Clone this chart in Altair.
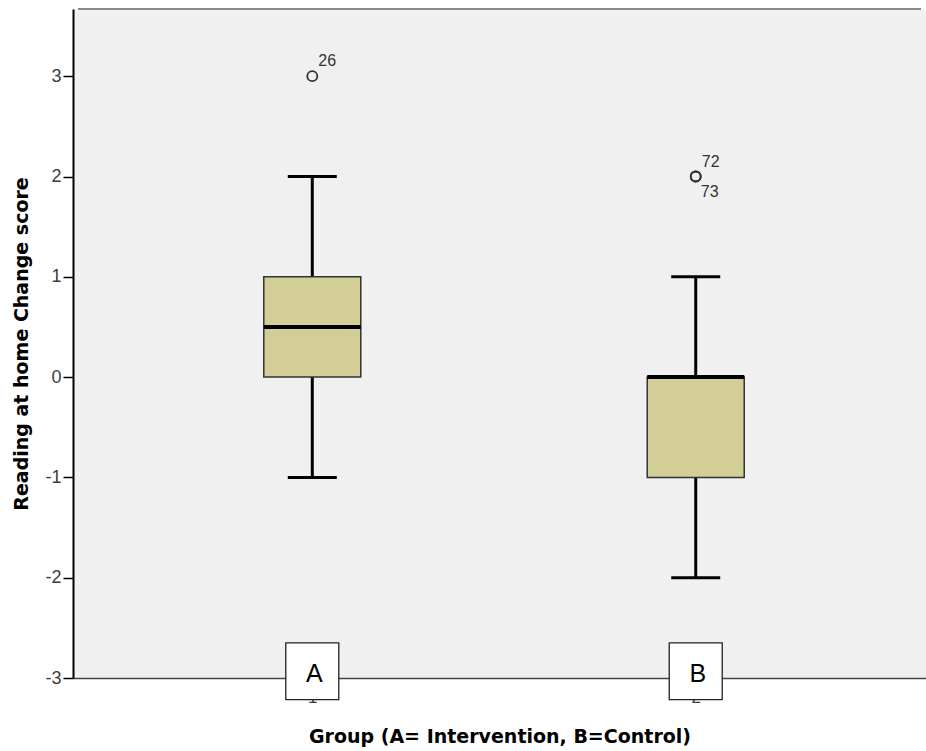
import altair as alt
import pandas as pd

# Box-plot summary per group (1 = A, 2 = B)
groups = [1, 2]
group_names = ["A", "B"]
whisker_low = [-1, -2]
q1 = [0, -1]
median = [0.5, 0]
q3 = [1, 0]
whisker_high = [2, 1]

# Outlying cases
outlier_group = [1, 2, 2]
outlier_value = [3, 2, 2]
outlier_case = ["26", "72", "73"]

# Axis ranges and tick values
X_DOMAIN = [0.389, 2.5875]
Y_DOMAIN = [-3, 3.67]
y_ticks = [-3, -2, -1, 0, 1, 2, 3]
x_ticks = [1, 2]

# Vertical extent (in score units) of the white group-letter boxes on the x axis
LETTER_BOX_TOP = -2.65
LETTER_BOX_BOTTOM = -3.215
LETTER_Y = -2.96

TITLE_FONT = "DejaVu Sans"
LABEL_FONT = "Liberation Sans"

box_df = pd.DataFrame({
    "group": groups, "name": group_names, "lo": whisker_low,
    "q1": q1, "med": median, "q3": q3, "hi": whisker_high,
})

# coincident outliers: first one labelled above the point, the next below
seen = {}
side = []
for g, v in zip(outlier_group, outlier_value):
    k = (g, v)
    side.append("above" if k not in seen else "below")
    seen[k] = True
out_df = pd.DataFrame({"group": outlier_group, "value": outlier_value,
                       "case": outlier_case, "side": side})

x_scale = alt.Scale(domain=X_DOMAIN, nice=False, zero=False)
y_scale = alt.Scale(domain=Y_DOMAIN, nice=False, zero=False)

# plain hyphen-minus in tick labels
plain_label = "'' + datum.value"

x_axis = alt.Axis(
    values=x_ticks, labelExpr=plain_label, title="Group (A= Intervention, B=Control)",
    grid=False, domainColor="#444444", domainWidth=1.5, tickColor="#333333",
    tickWidth=1.2, tickSize=8, labelFont=LABEL_FONT, labelFontSize=17,
    labelColor="#3c3c3c", labelPadding=3, labelFlush=False,
    titleFont=TITLE_FONT, titleFontSize=19, titleFontWeight="bold",
    titleColor="#000000", titlePadding=22,
)
y_axis = alt.Axis(
    values=y_ticks, labelExpr=plain_label, title="Reading at home Change score",
    grid=False, domainColor="#000000", domainWidth=2, tickColor="#000000",
    tickWidth=1.5, tickSize=10, labelFont=LABEL_FONT, labelFontSize=18,
    labelColor="#3c3c3c", labelPadding=2,
    titleFont=TITLE_FONT, titleFontSize=19, titleFontWeight="bold",
    titleColor="#000000", titlePadding=13,
)


def X(field):
    return alt.X(field, type="quantitative", scale=x_scale, axis=x_axis)


def Y(field):
    return alt.Y(field, type="quantitative", scale=y_scale, axis=y_axis)


boxes = alt.Chart(box_df)

# top frame line of the plot area
frame = alt.Chart(pd.DataFrame({"x": [X_DOMAIN[0]], "x2": [X_DOMAIN[1]], "y": [Y_DOMAIN[1]]})).mark_rule(
    color="#8a8a8a", strokeWidth=2
).encode(x=X("x"), x2="x2", y=Y("y"))

whisker_lo = boxes.mark_rule(color="black", strokeWidth=3).encode(x=X("group"), y=Y("lo"), y2="q1")
whisker_hi = boxes.mark_rule(color="black", strokeWidth=3).encode(x=X("group"), y=Y("q3"), y2="hi")
cap_lo = boxes.mark_tick(orient="horizontal", size=49, thickness=3, color="black", opacity=1).encode(
    x=X("group"), y=Y("lo"))
cap_hi = boxes.mark_tick(orient="horizontal", size=49, thickness=3, color="black", opacity=1).encode(
    x=X("group"), y=Y("hi"))

box = boxes.mark_bar(width=97, fill="#d3ce98", stroke="#333333", strokeWidth=1.5).encode(
    x=X("group"), y=Y("q1"), y2="q3")
med = boxes.mark_tick(orient="horizontal", size=97, thickness=4, color="black", opacity=1).encode(
    x=X("group"), y=Y("med"))

outs = alt.Chart(out_df)
points = outs.mark_point(shape="circle", filled=False, size=100, strokeWidth=1.8,
                         color="#333333", opacity=1).encode(x=X("group"), y=Y("value"))
lab_above = outs.transform_filter(alt.datum.side == "above").mark_text(
    align="left", baseline="middle", dx=6, dy=-15, font=LABEL_FONT, fontSize=16, color="#333333"
).encode(x=X("group"), y=Y("value"), text="case")
lab_below = outs.transform_filter(alt.datum.side == "below").mark_text(
    align="left", baseline="middle", dx=5, dy=15, font=LABEL_FONT, fontSize=16, color="#333333"
).encode(x=X("group"), y=Y("value"), text="case")

# white boxes with the group letters over the x tick labels
letter_base = boxes.transform_calculate(
    top=str(LETTER_BOX_TOP), bottom=str(LETTER_BOX_BOTTOM), ly=str(LETTER_Y)
)
letter_box = letter_base.mark_bar(width=53, fill="white", stroke="#222222", strokeWidth=1.3).encode(
    x=X("group"), y=Y("top:Q"), y2="bottom:Q")
letter_txt = letter_base.mark_text(
    align="center", baseline="middle", font=LABEL_FONT, fontSize=25, color="black", dx=2
).encode(x=X("group"), y=Y("ly:Q"), text="name")

chart = alt.layer(
    frame, whisker_lo, whisker_hi, cap_lo, cap_hi, box, med,
    points, lab_above, lab_below, letter_box, letter_txt,
).properties(
    width=853, height=669, background="white",
    padding={"left": 73, "top": 9, "right": 0, "bottom": 73},
    autosize=alt.AutoSizeParams(type="none"),
).configure_view(
    fill="#f0f0f0", stroke="transparent"
)

chart.save("out.html", embed_options={"renderer": "svg", "actions": False})
